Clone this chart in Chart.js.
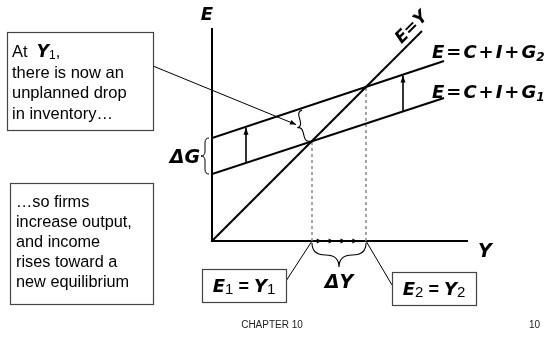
<!DOCTYPE html>
<html>
<head>
<meta charset="utf-8">
<script src="https://cdn.jsdelivr.net/npm/chart.js@4/dist/chart.umd.min.js"></script>
<style>
  html, body { margin: 0; padding: 0; background: #fff; }
  #wrap { width: 547px; height: 341px; position: relative; }
</style>
</head>
<body>
<div id="wrap"><canvas id="kc"></canvas></div>
<script>
// income endpoints used for both planned-expenditure lines
const incomeEnds = [0, 232];
const planG1 = [67, 143];   // E = C + I + G1
const planG2 = [103, 180];  // E = C + I + G2
const diagEnds = [0, 210];  // E = Y
const equilibria = [100, 154]; // Y1, Y2
const axisTop = 213, axisRight = 256;

const noteTop = ['there is now an', 'unplanned drop', 'in inventory\u2026'];
const noteBottom = ['\u2026so firms', 'increase output,', 'and income', 'rises toward a', 'new equilibrium'];

const MF = s => 'italic bold ' + s + 'px "DejaVu Sans"';
const NF = s => s + 'px "Liberation Sans"';

// parts: [text, font, dy, gap]; gap adds space between glyphs
function rich(ctx, x, y, parts, align) {
  const widthOf = p => {
    ctx.font = p[1];
    const g = p[3] || 0;
    const chars = [...p[0]];
    return g ? chars.reduce((s, c) => s + ctx.measureText(c).width, 0) + g * (chars.length - 1) : ctx.measureText(p[0]).width;
  };
  let w = parts.reduce((s, p) => s + widthOf(p), 0);
  if (align === 'center') x -= w / 2;
  if (align === 'right') x -= w;
  ctx.textAlign = 'left';
  ctx.textBaseline = 'alphabetic';
  parts.forEach(p => {
    ctx.font = p[1];
    const g = p[3] || 0;
    if (g) {
      const chars = [...p[0]];
      chars.forEach((c, i) => {
        ctx.fillText(c, x, y + (p[2] || 0));
        x += ctx.measureText(c).width + (i < chars.length - 1 ? g : 0);
      });
    } else {
      ctx.fillText(p[0], x, y + (p[2] || 0));
      x += ctx.measureText(p[0]).width;
    }
  });
}

function brace(ctx, x1, y1, x2, y2, w) {
  const L = Math.hypot(x2 - x1, y2 - y1), a = Math.atan2(y2 - y1, x2 - x1);
  const r = Math.min(Math.abs(w) * 0.6, L / 4);
  ctx.save();
  ctx.translate(x1, y1);
  ctx.rotate(a);
  ctx.beginPath();
  ctx.moveTo(0, 0);
  ctx.quadraticCurveTo(0, w / 2, r, w / 2);
  ctx.lineTo(L / 2 - r, w / 2);
  ctx.quadraticCurveTo(L / 2, w / 2, L / 2, w);
  ctx.quadraticCurveTo(L / 2, w / 2, L / 2 + r, w / 2);
  ctx.lineTo(L - r, w / 2);
  ctx.quadraticCurveTo(L, w / 2, L, 0);
  ctx.stroke();
  ctx.restore();
}

function head(ctx, x1, y1, x2, y2, len, wid) {
  const a = Math.atan2(y2 - y1, x2 - x1);
  ctx.save();
  ctx.translate(x2, y2);
  ctx.rotate(a);
  ctx.beginPath();
  ctx.moveTo(0, 0);
  ctx.lineTo(-len, -wid / 2);
  ctx.lineTo(-len, wid / 2);
  ctx.closePath();
  ctx.fill();
  ctx.restore();
}

function arrow(ctx, x1, y1, x2, y2, lw, len, wid) {
  ctx.lineWidth = lw;
  ctx.beginPath();
  ctx.moveTo(x1, y1);
  ctx.lineTo(x2, y2);
  ctx.stroke();
  head(ctx, x1, y1, x2, y2, len, wid);
}

function box(ctx, x, y, w, h) {
  ctx.fillStyle = '#fff';
  ctx.fillRect(x, y, w, h);
  ctx.strokeStyle = '#444';
  ctx.lineWidth = 1.2;
  ctx.strokeRect(x + 0.5, y + 0.5, w, h);
  ctx.fillStyle = '#000';
  ctx.strokeStyle = '#000';
}

const lerp = (arr, t) => arr[0] + (arr[1] - arr[0]) * t;
const onLine = (vals, inc) => lerp(vals, (inc - incomeEnds[0]) / (incomeEnds[1] - incomeEnds[0]));

const axesPlugin = {
  id: 'axes',
  beforeDatasetsDraw(chart) {
    const ctx = chart.ctx, sx = chart.scales.x, sy = chart.scales.y;
    ctx.save();
    ctx.strokeStyle = '#000';
    ctx.lineWidth = 2;
    ctx.beginPath();
    ctx.moveTo(sx.getPixelForValue(0), sy.getPixelForValue(axisTop));
    ctx.lineTo(sx.getPixelForValue(0), sy.getPixelForValue(0));
    ctx.lineTo(sx.getPixelForValue(axisRight), sy.getPixelForValue(0));
    ctx.stroke();
    ctx.restore();
  }
};

const notesPlugin = {
  id: 'notes',
  afterDatasetsDraw(chart) {
    const ctx = chart.ctx, sx = chart.scales.x, sy = chart.scales.y;
    const px = v => sx.getPixelForValue(v), py = v => sy.getPixelForValue(v);
    const [y1, y2] = equilibria;
    ctx.save();
    ctx.fillStyle = '#000';
    ctx.strokeStyle = '#000';

    // axis labels
    rich(ctx, px(0) - 5, py(axisTop) - 8, [['E', MF(18)]], 'center');
    rich(ctx, px(axisRight) + 10, py(0) + 16, [['Y', MF(19)]], 'left');

    // line labels
    rich(ctx, 432, 58, [['E=C+I+G', MF(18), 0, 2], ['2', MF(12), 3]], 'left');
    rich(ctx, 432, 98, [['E=C+I+G', MF(18), 0, 2], ['1', MF(12), 3]], 'left');
    ctx.save();
    ctx.translate(px(diagEnds[1]) - 5, py(diagEnds[1]) + 2);
    ctx.rotate(-Math.PI / 4);
    rich(ctx, 0, -3, [['E=Y', MF(17)]], 'center');
    ctx.restore();

    // shift arrows between the two lines
    [34, 191].forEach(inc => {
      arrow(ctx, px(inc), py(onLine(planG1, inc)), px(inc), py(onLine(planG2, inc)) + 1, 1.6, 7, 5);
    });

    // delta G brace on the vertical axis
    ctx.lineWidth = 1;
    brace(ctx, px(0) - 3, py(planG2[0]), px(0) - 3, py(planG1[0]), 8);
    rich(ctx, px(0) - 12, (py(planG2[0]) + py(planG1[0])) / 2 + 7, [['\u0394G', MF(19)]], 'right');

    // brace between lines at Y1
    const bTopX = px(y1 - 10), bTopY = py(onLine(planG2, y1 - 10)) + 2;
    const bBotX = px(y1 - 2), bBotY = py(y1);
    ctx.lineWidth = 1.1;
    brace(ctx, bTopX, bTopY, bBotX, bBotY, 9);
    const tipX = (bTopX + bBotX) / 2 - 9, tipY = (bTopY + bBotY) / 2;

    // small chevrons along the income axis
    [0.18, 0.4, 0.62, 0.84].forEach(t => {
      const cx = px(y1 + (y2 - y1) * t);
      head(ctx, cx - 5, py(0), cx, py(0), 5, 5);
    });

    // delta Y brace
    ctx.lineWidth = 1.1;
    brace(ctx, px(y1), py(0) + 2, px(y2), py(0) + 2, 24);
    rich(ctx, (px(y1) + px(y2)) / 2, py(0) + 47, [['\u0394Y', MF(19)]], 'center');

    // callout 1
    box(ctx, 7, 32, 146, 98);
    ctx.lineWidth = 1;
    arrow(ctx, 153, 66, tipX - 1, tipY - 1, 1, 6, 5);
    rich(ctx, 12, 57, [['At  ', NF(16.5)], ['Y', MF(17)], ['1', NF(12), 2], [',', NF(16.5)]], 'left');
    noteTop.forEach((t, i) => rich(ctx, 12, 77.5 + i * 20.5, [[t, NF(16.5)]], 'left'));

    // callout 2
    box(ctx, 10, 183, 143, 121);
    noteBottom.forEach((t, i) => rich(ctx, 16, 206.5 + i * 20, [[t, NF(16.3)]], 'left'));

    // equilibrium boxes
    ctx.lineWidth = 1;
    ctx.beginPath();
    ctx.moveTo(px(y1), py(0));
    ctx.lineTo(286, 281);
    ctx.moveTo(px(y2), py(0));
    ctx.lineTo(392, 285);
    ctx.stroke();
    box(ctx, 202, 269, 84, 33);
    rich(ctx, 244, 292, [['E', MF(18)], ['1', NF(15), 2], [' = ', 'bold ' + NF(18)], ['Y', MF(18)], ['1', NF(15), 2]], 'center');
    box(ctx, 392, 272, 84, 33);
    rich(ctx, 434, 295, [['E', MF(18)], ['2', NF(15), 2], [' = ', 'bold ' + NF(18)], ['Y', MF(18)], ['2', NF(15), 2]], 'center');

    // footer
    ctx.fillStyle = '#222';
    rich(ctx, 272, 328, [['CHAPTER 10', NF(10)]], 'center');
    rich(ctx, 540, 328, [['10', NF(10)]], 'right');
    ctx.restore();
  }
};

const pts = (xs, ys) => xs.map((x, i) => ({ x: x, y: ys[i] }));
const solid = { borderColor: '#000', borderWidth: 2, pointRadius: 0, showLine: true, fill: false };
const dashed = { borderColor: '#888', borderWidth: 1.5, borderDash: [3, 3], pointRadius: 0, showLine: true, fill: false };

new Chart(document.getElementById('kc').getContext('2d'), {
  type: 'scatter',
  data: {
    datasets: [
      Object.assign({ label: 'E = Y', data: pts(diagEnds, diagEnds) }, solid),
      Object.assign({ label: 'E = C + I + G1', data: pts(incomeEnds, planG1) }, solid),
      Object.assign({ label: 'E = C + I + G2', data: pts(incomeEnds, planG2) }, solid),
      Object.assign({ label: 'Y1', data: pts([equilibria[0], equilibria[0]], [0, equilibria[0]]) }, dashed),
      Object.assign({ label: 'Y2', data: pts([equilibria[1], equilibria[1]], [0, equilibria[1]]) }, dashed)
    ]
  },
  options: {
    responsive: true,
    maintainAspectRatio: false,
    animation: false,
    layout: { padding: { left: 212, right: 75, top: 21, bottom: 100 } },
    plugins: { legend: { display: false }, tooltip: { enabled: false } },
    scales: {
      x: { type: 'linear', min: 0, max: 260, display: false },
      y: { type: 'linear', min: 0, max: 220, display: false }
    }
  },
  plugins: [axesPlugin, notesPlugin]
});
</script>
</body>
</html>
